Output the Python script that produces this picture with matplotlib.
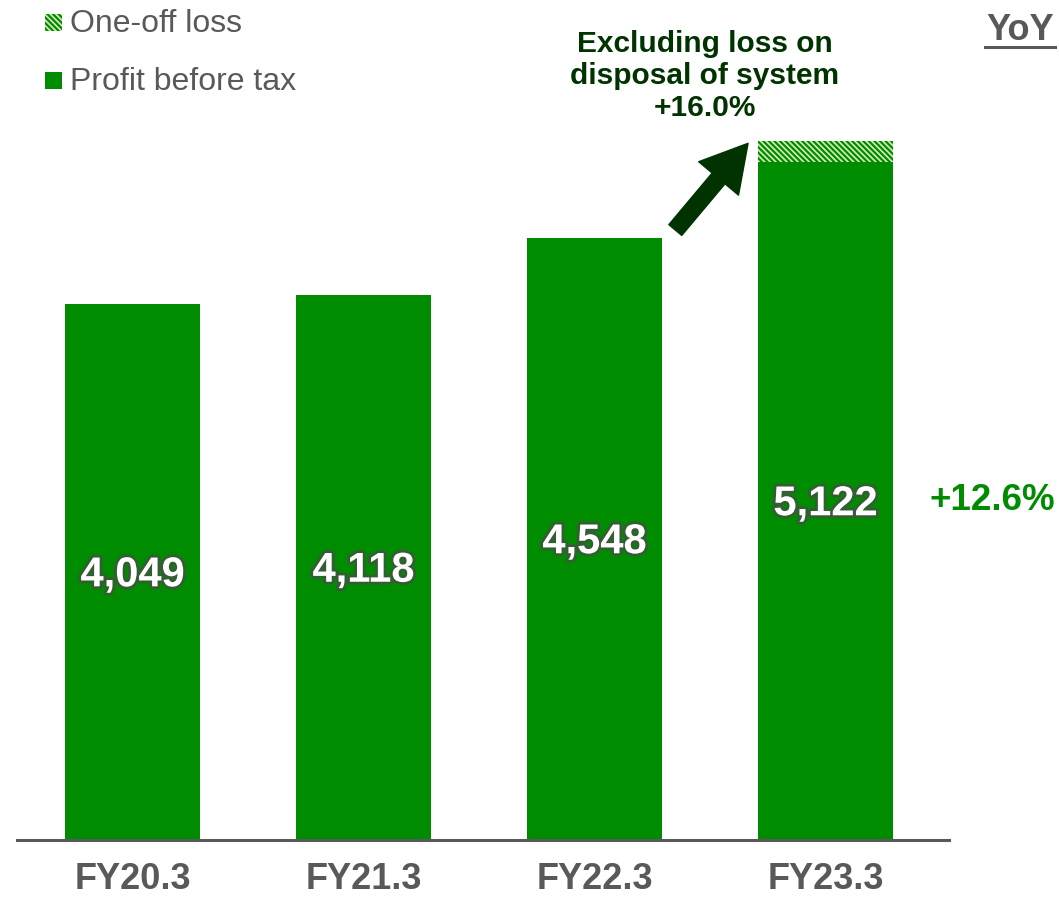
import matplotlib
matplotlib.use("Agg")
import matplotlib.pyplot as plt
from matplotlib.patches import Rectangle
from matplotlib.lines import Line2D
import matplotlib.patheffects as pe

plt.rcParams['font.family'] = ['Liberation Sans', 'DejaVu Sans']
plt.rcParams['hatch.linewidth'] = 1.6
plt.rcParams['hatch.color'] = '#008C00'

categories = ['FY20.3', 'FY21.3', 'FY22.3', 'FY23.3']
profit = [4049, 4118, 4548, 5122]
one_off = [0, 0, 0, 154]
profit_labels = ['4,049', '4,118', '4,548', '5,122']
yoy_label = '+12.6%'
note_label = 'Excluding loss on\ndisposal of system\n+16.0%'

GREEN = '#008C00'
DARK = '#003300'
GRAY = '#595959'
HATCH_BG = '#d6ebb8'
HATCH = '\\' * 6

W, H = 1059, 898
fig = plt.figure(figsize=(W / 100, H / 100), dpi=100)
# axes: left 17px, right 949px, bottom at 840px, top at 130px
ax = fig.add_axes([17 / W, (H - 840) / H, (949 - 17) / W, (840 - 130) / H])
ymax = (840 - 130) / 0.1324
ax.set_ylim(0, ymax)
ax.set_xlim(-0.5, 3.535)

x = range(len(categories))
ax.bar(x, profit, width=0.585, color=GREEN, zorder=2)
ax.bar(x, one_off, width=0.585, bottom=profit, color=HATCH_BG, hatch=HATCH,
       edgecolor=GREEN, linewidth=0, zorder=2)

for i, (v, lab) in enumerate(zip(profit, profit_labels)):
    t = ax.text(i, v / 2 - 25, lab, ha='center', va='center', color='white',
                fontsize=30, fontweight='bold', zorder=4)
    t.set_path_effects([pe.Stroke(linewidth=4, foreground='#4a4a4a', alpha=0.7), pe.Normal()])

ax.set_xticks(list(x))
ax.set_xticklabels(categories, fontsize=26, fontweight='bold', color=GRAY)
ax.tick_params(axis='x', length=0, pad=16)
ax.set_yticks([])
for s in ['top', 'right', 'left']:
    ax.spines[s].set_visible(False)
ax.spines['bottom'].set_color(GRAY)
ax.spines['bottom'].set_linewidth(2.2)

# arrow
ax.annotate('', xy=(2.665, 5262), xytext=(2.35, 4607),
            arrowprops=dict(arrowstyle='simple,head_width=1.7,head_length=1.5,tail_width=0.55',
                            color=DARK, mutation_scale=22, shrinkA=0, shrinkB=0))
fig.text(705 / W, 1 - 76 / H, note_label, ha='center', va='center', color=DARK,
         fontsize=21.5, fontweight='bold', linespacing=1.2)

# YoY
fig.text(1020 / W, 1 - 31 / H, 'YoY', ha='center', va='center', color=GRAY,
         fontsize=26, fontweight='bold')
fig.add_artist(Line2D([985 / W, 1055 / W], [1 - 47 / H, 1 - 47 / H], color=GRAY, lw=2.2,
                      transform=fig.transFigure))
fig.text(992 / W, 1 - 501 / H, yoy_label, ha='center', va='center', color=GREEN,
         fontsize=26.5, fontweight='bold')

# legend
fig.add_artist(Rectangle((45 / W, 1 - 31 / H), 17 / W, 17 / H, transform=fig.transFigure,
                         facecolor=HATCH_BG, hatch=HATCH, edgecolor=GREEN, linewidth=0))
fig.add_artist(Rectangle((45 / W, 1 - 89 / H), 17 / W, 17 / H, transform=fig.transFigure,
                         facecolor=GREEN, linewidth=0))
fig.text(70 / W, 1 - 24 / H, 'One-off loss', ha='left', va='center', color=GRAY, fontsize=23)
fig.text(70 / W, 1 - 82 / H, 'Profit before tax', ha='left', va='center', color=GRAY, fontsize=23)

fig.savefig('out.png', dpi=100)
